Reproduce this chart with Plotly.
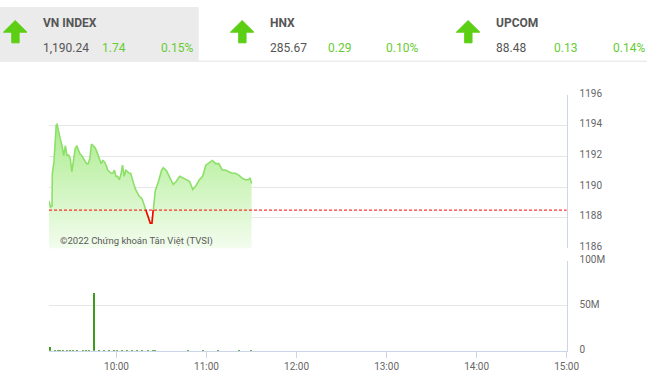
import plotly.graph_objects as go
import pandas as pd

# ---------------- data ----------------
base_date = "2022-06-01"
ref_close = 1188.50
price_minutes = [15, 16, 17, 17.2, 18.3, 19.8, 20.4, 21.5, 22.6, 23.7, 24.8, 25.9, 27, 28.1, 29.2, 30.2,
                 31.3, 32.4, 33.5, 34.6, 35.7, 36.8, 37.9, 39, 40, 41.1, 42.2, 43.3, 44.4, 45.5, 46.6,
                 47.7, 48.8, 49.8, 50.9, 52, 53.1, 54.2, 55.3, 56.4, 57.5, 58.6, 59.6, 60.7, 61.8, 62.9,
                 64, 65.1, 66.2, 67.3, 68.4, 69.4, 70.5, 71.6, 72.7, 73.8, 74.9, 76, 77.1, 78.2, 79.2,
                 80.3, 81.4, 82.5, 83.6, 84.7, 85.8, 88, 90.1, 91.2, 93.4, 95.6, 97.8, 99.9, 102.1,
                 104.3, 106.5, 108.6, 110.8, 113, 115.2, 117.4, 119.5, 121.7, 123.9, 126.1, 128.2,
                 130.4, 132.6, 134.8, 137, 139.1, 141.3, 143.5, 145.7, 147.8, 149, 150]
price_values = [1189.10, 1188.70, 1188.75, 1190.90, 1191.64, 1194.06, 1194.10, 1193.54, 1193.10, 1192.70,
                1192.06, 1192.70, 1192.06, 1192.10, 1191.85, 1191.00, 1191.85, 1192.48, 1192.70, 1192.48,
                1192.16, 1192.06, 1191.85, 1191.64, 1191.53, 1191.53, 1191.85, 1192.80, 1192.70, 1192.60,
                1192.38, 1192.06, 1191.85, 1191.53, 1191.74, 1191.64, 1191.43, 1191.10, 1191.00, 1190.90,
                1190.90, 1191.10, 1190.70, 1190.70, 1190.48, 1190.80, 1191.43, 1190.70, 1191.10, 1191.00,
                1190.90, 1190.90, 1190.60, 1190.17, 1189.85, 1189.64, 1189.43, 1189.33, 1189.22, 1188.90,
                1188.60, 1188.27, 1187.96, 1187.64, 1187.64, 1188.80, 1189.75, 1190.38, 1191.12, 1191.26,
                1191.05, 1190.60, 1190.17, 1190.38, 1190.70, 1190.60, 1190.50, 1190.38, 1189.85, 1190.10,
                1190.48, 1190.70, 1191.43, 1191.60, 1191.74, 1191.53, 1191.53, 1191.12, 1191.12, 1191.00,
                1190.90, 1190.90, 1190.80, 1190.60, 1190.48, 1190.48, 1190.60, 1190.24]

volume_minutes = [16, 19, 21, 22.5, 24.5, 27, 29, 31, 34, 37.5, 40, 42, 45.3, 48.5, 52, 55, 58.3, 60.5,
                  64, 67, 70.3, 73.6, 77, 81, 84.5, 86, 107.5, 118, 128, 142, 150]
volume_values = [4.3, 0.9, 0.8, 0.9, 0.8, 0.8, 0.9, 0.8, 1.0, 0.8, 0.9, 1.0, 64.5, 0.8, 0.8, 0.9, 0.8, 0.9,
                 0.8, 0.9, 0.8, 0.8, 0.9, 0.8, 0.8, 1.0, 1.0, 0.8, 0.9, 0.8, 0.8]

x_ticks = ["10:00", "11:00", "12:00", "13:00", "14:00", "15:00"]
price_ticks = [1186, 1188, 1190, 1192, 1194, 1196]
vol_ticks = [0, 50e6, 100e6]
vol_tick_text = ["0", "50M", "100M"]

watermark = "©2022 Chứng khoán Tân Việt (TVSI)"
indices = [
    {"name": "VN INDEX", "value": "1,190.24", "change": "1.74", "pct": "0.15%"},
    {"name": "HNX", "value": "285.67", "change": "0.29", "pct": "0.10%"},
    {"name": "UPCOM", "value": "88.48", "change": "0.13", "pct": "0.14%"},
]

# ---------------- helpers ----------------
W, H = 660, 380
def px(x):
    return x / W
def py(y):
    return 1 - y / H

def t(m):
    return pd.Timestamp(base_date + " 09:00") + pd.to_timedelta(m, unit="min")

px_times = [t(m) for m in price_minutes]
vol_times = [t(m) for m in volume_minutes]

# red segment (below reference) with interpolated crossings
red_x, red_y = [], []
for i in range(1, len(price_values)):
    a, b = price_values[i - 1], price_values[i]
    ma, mb = price_minutes[i - 1], price_minutes[i]
    if (a - ref_close) * (b - ref_close) < 0:
        mc = ma + (ref_close - a) / (b - a) * (mb - ma)
        red_x.append(t(mc)); red_y.append(ref_close)
    if b < ref_close:
        red_x.append(t(mb)); red_y.append(b)

fig = go.Figure()

fig.add_trace(go.Scatter(x=[px_times[0], px_times[-1]], y=[1186, 1186], mode="lines",
                         line=dict(width=0, color="rgba(0,0,0,0)"), hoverinfo="skip",
                         showlegend=False, xaxis="x", yaxis="y"))
fig.add_trace(go.Scatter(x=px_times, y=price_values, mode="lines",
                         line=dict(color="#8ce068", width=1.6), fill="tonexty",
                         fillgradient=dict(type="vertical", start=1186, stop=1194.2,
                                           colorscale=[[0, "rgb(246,253,242)"], [1, "rgb(170,236,140)"]]),
                         showlegend=False, xaxis="x", yaxis="y"))
fig.add_trace(go.Scatter(x=red_x, y=red_y, mode="lines", line=dict(color="#ff0000", width=1.6),
                         showlegend=False, xaxis="x", yaxis="y"))

fig.add_trace(go.Bar(x=vol_times, y=[v * 1e6 for v in volume_values], width=45000,
                     marker=dict(color="#3c9a1c", line=dict(width=0)),
                     showlegend=False, xaxis="x2", yaxis="y2"))

x_range = [t(15), t(360)]
x_tickvals = [pd.Timestamp(base_date + " " + s) for s in x_ticks]

shapes = []
shapes.append(dict(type="rect", xref="paper", yref="paper", x0=0, x1=px(202.7), y0=py(55.5), y1=py(0),
                   fillcolor="#ebebeb", line=dict(width=0), layer="below"))
shapes.append(dict(type="line", xref="paper", yref="paper", x0=0, x1=1, y0=py(56), y1=py(56),
                   line=dict(color="#e3e3e3", width=1)))
shapes.append(dict(type="line", xref="x domain", yref="y", x0=0, x1=1, y0=ref_close, y1=ref_close,
                   line=dict(color="#ff0000", width=1, dash="3px,2px")))

def arrow(x0):
    pts = [(12, 0), (24, 12), (16, 12), (16, 23), (8.5, 23), (8.5, 12), (0, 12)]
    p = "M " + " L ".join(f"{px(x0 + a):.5f},{py(14 + b):.5f}" for a, b in pts) + " Z"
    return dict(type="path", xref="paper", yref="paper", path=p, fillcolor="#5ccf14",
                line=dict(color="#5ccf14", width=1))

annotations = []
col_x = [(3.5, 41.7, 101.7, 161.7), (235, 273.3, 332.7, 391.7), (465.5, 504.3, 563.3, 623.3)]
hdr_font = "Roboto"
for info, (ax, nx, cx, pcx) in zip(indices, col_x):
    shapes.append(arrow(ax))
    annotations.append(dict(x=px(nx), y=py(17), xref="paper", yref="paper", text="<b>" + info["name"] + "</b>",
                            showarrow=False, xanchor="left", yanchor="middle",
                            font=dict(family=hdr_font, size=12, color="#555555")))
    annotations.append(dict(x=px(nx), y=py(42), xref="paper", yref="paper", text=info["value"],
                            showarrow=False, xanchor="left", yanchor="middle",
                            font=dict(family=hdr_font, size=12, color="#555555")))
    annotations.append(dict(x=px(cx), y=py(42), xref="paper", yref="paper", text=info["change"],
                            showarrow=False, xanchor="left", yanchor="middle",
                            font=dict(family=hdr_font, size=12, color="#66cc33")))
    annotations.append(dict(x=px(pcx), y=py(42), xref="paper", yref="paper", text=info["pct"],
                            showarrow=False, xanchor="left", yanchor="middle",
                            font=dict(family=hdr_font, size=12, color="#66cc33")))

annotations.append(dict(x=px(59), y=py(242), xref="paper", yref="paper", text=watermark, showarrow=False,
                        xanchor="left", yanchor="middle",
                        font=dict(family="Roboto", size=9.5, color="#5a5a5a")))

dom_x = [50 / W, 578 / W]
fig.update_layout(
    width=W, height=H, margin=dict(l=0, r=0, t=0, b=0),
    paper_bgcolor="white", plot_bgcolor="white", bargap=0,
    shapes=shapes, annotations=annotations,
    xaxis=dict(domain=dom_x, range=x_range, anchor="y", showticklabels=False, showgrid=False,
               zeroline=False, showline=False, ticks=""),
    xaxis2=dict(domain=dom_x, range=x_range, anchor="y2", matches="x", tickvals=x_tickvals,
                ticktext=x_ticks, showgrid=False, zeroline=False, showline=True, linecolor="#ccd6eb",
                ticks="outside", ticklen=6, tickcolor="#ccd6eb",
                tickfont=dict(family="Roboto", size=10, color="#666666")),
    yaxis=dict(domain=[(H - 249.3) / H, (H - 91) / H], range=[1186, 1196], side="right", anchor="x",
               tickvals=price_ticks, gridcolor="#e6e6e6", showline=True, linecolor="#ccd6eb",
               zeroline=False, ticks="", ticklabelstandoff=10, ticklabelshift=-2,
               tickfont=dict(family="Roboto", size=10, color="#666666")),
    yaxis2=dict(domain=[(H - 355) / H, (H - 262) / H], range=[0, 100e6], side="right", anchor="x2",
                tickvals=vol_ticks, ticktext=vol_tick_text, gridcolor="#e6e6e6", showline=True,
                linecolor="#ccd6eb", zeroline=False, ticks="", ticklabelstandoff=10, ticklabelshift=-1,
                tickfont=dict(family="Roboto", size=10, color="#666666")),
)

fig.write_html("out.html")
